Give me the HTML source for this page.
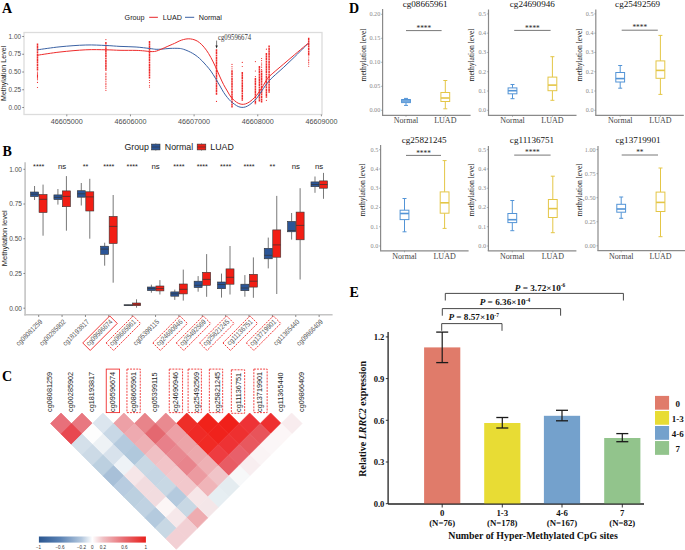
<!DOCTYPE html>
<html><head><meta charset="utf-8"><style>
html,body{margin:0;padding:0;background:#fff;width:685px;height:550px;overflow:hidden}
svg{display:block}
.S{font-family:"Liberation Sans", sans-serif}
.R{font-family:"Liberation Serif", serif}
</style></head><body>
<svg width="685" height="550" viewBox="0 0 685 550">
<rect width="685" height="550" fill="#fff"/>
<text class="R" x="2.00" y="12.90" font-size="14" fill="#000" text-anchor="start" font-weight="bold">A</text>
<text class="R" x="2.40" y="156.30" font-size="14" fill="#000" text-anchor="start" font-weight="bold">B</text>
<text class="R" x="2.00" y="380.80" font-size="14" fill="#000" text-anchor="start" font-weight="bold">C</text>
<text class="R" x="349.10" y="12.60" font-size="14" fill="#000" text-anchor="start" font-weight="bold">D</text>
<text class="R" x="349.50" y="296.80" font-size="14" fill="#000" text-anchor="start" font-weight="bold">E</text>
<text class="S" x="124.60" y="20.00" font-size="7.2" fill="#1a1a1a" text-anchor="start">Group</text>
<line x1="149.20" y1="17.30" x2="157.90" y2="17.30" stroke="#e8262a" stroke-width="1"/>
<text class="S" x="162.70" y="20.00" font-size="7.2" fill="#1a1a1a" text-anchor="start">LUAD</text>
<line x1="185.00" y1="17.30" x2="194.20" y2="17.30" stroke="#3b62a4" stroke-width="1"/>
<text class="S" x="198.70" y="20.00" font-size="7.2" fill="#1a1a1a" text-anchor="start">Normal</text>
<rect x="24.00" y="32.50" width="298.00" height="82.00" fill="#fff" stroke="#dcdcdc" stroke-width="1.3"/>
<line x1="22.20" y1="36.50" x2="24.00" y2="36.50" stroke="#444" stroke-width="0.6"/>
<text class="S" x="21.00" y="38.70" font-size="6.4" fill="#4d4d4d" text-anchor="end">1.00</text>
<line x1="22.20" y1="54.25" x2="24.00" y2="54.25" stroke="#444" stroke-width="0.6"/>
<text class="S" x="21.00" y="56.45" font-size="6.4" fill="#4d4d4d" text-anchor="end">0.75</text>
<line x1="22.20" y1="72.00" x2="24.00" y2="72.00" stroke="#444" stroke-width="0.6"/>
<text class="S" x="21.00" y="74.20" font-size="6.4" fill="#4d4d4d" text-anchor="end">0.50</text>
<line x1="22.20" y1="89.75" x2="24.00" y2="89.75" stroke="#444" stroke-width="0.6"/>
<text class="S" x="21.00" y="91.95" font-size="6.4" fill="#4d4d4d" text-anchor="end">0.25</text>
<line x1="22.20" y1="107.50" x2="24.00" y2="107.50" stroke="#444" stroke-width="0.6"/>
<text class="S" x="21.00" y="109.70" font-size="6.4" fill="#4d4d4d" text-anchor="end">0.00</text>
<line x1="66.80" y1="114.50" x2="66.80" y2="116.30" stroke="#444" stroke-width="0.6"/>
<text class="S" x="66.80" y="123.80" font-size="7.2" fill="#4d4d4d" text-anchor="middle">46605000</text>
<line x1="130.45" y1="114.50" x2="130.45" y2="116.30" stroke="#444" stroke-width="0.6"/>
<text class="S" x="130.45" y="123.80" font-size="7.2" fill="#4d4d4d" text-anchor="middle">46606000</text>
<line x1="194.10" y1="114.50" x2="194.10" y2="116.30" stroke="#444" stroke-width="0.6"/>
<text class="S" x="194.10" y="123.80" font-size="7.2" fill="#4d4d4d" text-anchor="middle">46607000</text>
<line x1="257.75" y1="114.50" x2="257.75" y2="116.30" stroke="#444" stroke-width="0.6"/>
<text class="S" x="257.75" y="123.80" font-size="7.2" fill="#4d4d4d" text-anchor="middle">46608000</text>
<line x1="321.40" y1="114.50" x2="321.40" y2="116.30" stroke="#444" stroke-width="0.6"/>
<text class="S" x="321.40" y="123.80" font-size="7.2" fill="#4d4d4d" text-anchor="middle">46609000</text>
<text class="S" x="0.00" y="0.00" font-size="7.1" fill="#1a1a1a" text-anchor="middle" transform="translate(6.2,73.4) rotate(-90)">Methylation Level</text>
<line x1="37.50" y1="43.50" x2="37.50" y2="70.40" stroke="#ee2b2b" stroke-width="1.5" stroke-dasharray="2.2,0.35"/>
<circle cx="37.50" cy="72.00" r="0.6" fill="#ee2b2b"/>
<circle cx="37.50" cy="73.12" r="0.6" fill="#ee2b2b"/>
<circle cx="37.50" cy="74.15" r="0.6" fill="#ee2b2b"/>
<circle cx="37.50" cy="75.42" r="0.6" fill="#ee2b2b"/>
<circle cx="37.50" cy="76.42" r="0.6" fill="#ee2b2b"/>
<circle cx="37.50" cy="77.63" r="0.6" fill="#ee2b2b"/>
<circle cx="37.50" cy="78.77" r="0.6" fill="#ee2b2b"/>
<circle cx="37.50" cy="79.76" r="0.6" fill="#ee2b2b"/>
<circle cx="37.50" cy="82.40" r="0.6" fill="#ee2b2b"/>
<circle cx="37.50" cy="87.50" r="0.6" fill="#ee2b2b"/>
<line x1="105.90" y1="42.10" x2="105.90" y2="71.00" stroke="#ee2b2b" stroke-width="1.5" stroke-dasharray="2.2,0.35"/>
<circle cx="105.90" cy="73.20" r="0.6" fill="#ee2b2b"/>
<circle cx="105.90" cy="74.67" r="0.6" fill="#ee2b2b"/>
<circle cx="105.90" cy="76.42" r="0.6" fill="#ee2b2b"/>
<circle cx="105.90" cy="77.91" r="0.6" fill="#ee2b2b"/>
<circle cx="105.90" cy="79.41" r="0.6" fill="#ee2b2b"/>
<circle cx="105.90" cy="81.16" r="0.6" fill="#ee2b2b"/>
<circle cx="105.90" cy="83.20" r="0.6" fill="#ee2b2b"/>
<circle cx="105.90" cy="84.72" r="0.6" fill="#ee2b2b"/>
<circle cx="105.90" cy="86.33" r="0.6" fill="#ee2b2b"/>
<circle cx="105.90" cy="88.22" r="0.6" fill="#ee2b2b"/>
<circle cx="105.90" cy="90.34" r="0.6" fill="#ee2b2b"/>
<circle cx="105.90" cy="39.60" r="0.6" fill="#ee2b2b"/>
<line x1="149.50" y1="41.00" x2="149.50" y2="78.60" stroke="#ee2b2b" stroke-width="1.5" stroke-dasharray="2.2,0.35"/>
<circle cx="149.50" cy="80.50" r="0.6" fill="#ee2b2b"/>
<circle cx="149.50" cy="82.61" r="0.6" fill="#ee2b2b"/>
<circle cx="149.50" cy="85.23" r="0.6" fill="#ee2b2b"/>
<circle cx="149.50" cy="87.03" r="0.6" fill="#ee2b2b"/>
<line x1="216.50" y1="49.30" x2="216.50" y2="95.00" stroke="#ee2b2b" stroke-width="1.5" stroke-dasharray="2.2,0.35"/>
<circle cx="216.50" cy="101.40" r="0.6" fill="#ee2b2b"/>
<line x1="232.00" y1="70.30" x2="232.00" y2="107.60" stroke="#ee2b2b" stroke-width="1.5" stroke-dasharray="2.2,0.35"/>
<circle cx="232.00" cy="64.40" r="0.6" fill="#ee2b2b"/>
<circle cx="232.00" cy="66.69" r="0.6" fill="#ee2b2b"/>
<circle cx="232.00" cy="68.83" r="0.6" fill="#ee2b2b"/>
<line x1="242.30" y1="72.00" x2="242.30" y2="100.70" stroke="#ee2b2b" stroke-width="1.5" stroke-dasharray="2.2,0.35"/>
<circle cx="242.30" cy="62.40" r="0.6" fill="#ee2b2b"/>
<circle cx="242.30" cy="66.50" r="0.6" fill="#ee2b2b"/>
<line x1="255.40" y1="78.00" x2="255.40" y2="104.30" stroke="#ee2b2b" stroke-width="1.5" stroke-dasharray="2.2,0.35"/>
<circle cx="255.40" cy="61.60" r="0.6" fill="#ee2b2b"/>
<circle cx="255.40" cy="71.00" r="0.6" fill="#ee2b2b"/>
<circle cx="255.40" cy="76.60" r="0.6" fill="#ee2b2b"/>
<line x1="259.40" y1="66.00" x2="259.40" y2="102.00" stroke="#ee2b2b" stroke-width="1.5" stroke-dasharray="2.2,0.35"/>
<line x1="261.60" y1="70.40" x2="261.60" y2="102.50" stroke="#ee2b2b" stroke-width="1.5" stroke-dasharray="2.2,0.35"/>
<circle cx="261.60" cy="58.50" r="0.6" fill="#ee2b2b"/>
<circle cx="261.60" cy="60.53" r="0.6" fill="#ee2b2b"/>
<circle cx="261.60" cy="63.01" r="0.6" fill="#ee2b2b"/>
<circle cx="261.60" cy="64.93" r="0.6" fill="#ee2b2b"/>
<circle cx="261.60" cy="67.20" r="0.6" fill="#ee2b2b"/>
<circle cx="261.60" cy="69.52" r="0.6" fill="#ee2b2b"/>
<line x1="266.40" y1="53.00" x2="266.40" y2="97.70" stroke="#ee2b2b" stroke-width="1.5" stroke-dasharray="2.2,0.35"/>
<circle cx="266.40" cy="49.20" r="0.6" fill="#ee2b2b"/>
<circle cx="266.40" cy="100.30" r="0.6" fill="#ee2b2b"/>
<line x1="269.10" y1="45.40" x2="269.10" y2="92.80" stroke="#ee2b2b" stroke-width="1.5" stroke-dasharray="2.2,0.35"/>
<line x1="308.70" y1="37.70" x2="308.70" y2="55.70" stroke="#ee2b2b" stroke-width="1.5" stroke-dasharray="2.2,0.35"/>
<circle cx="308.70" cy="57.00" r="0.6" fill="#ee2b2b"/>
<circle cx="308.70" cy="59.04" r="0.6" fill="#ee2b2b"/>
<circle cx="308.70" cy="60.69" r="0.6" fill="#ee2b2b"/>
<circle cx="308.70" cy="62.34" r="0.6" fill="#ee2b2b"/>
<circle cx="308.70" cy="64.10" r="0.6" fill="#ee2b2b"/>
<circle cx="308.70" cy="66.25" r="0.6" fill="#ee2b2b"/>
<path d="M37.60,49.80 C41.33,49.30 51.97,47.60 60.00,46.80 C68.03,46.00 78.13,45.22 85.80,45.00 C93.47,44.78 100.30,45.27 106.00,45.50 C111.70,45.73 114.98,46.15 120.00,46.40 C125.02,46.65 131.15,46.65 136.10,47.00 C141.05,47.35 146.37,48.12 149.70,48.50 C153.03,48.88 154.08,49.20 156.10,49.30 C158.12,49.40 159.48,49.25 161.80,49.10 C164.12,48.95 167.12,48.52 170.00,48.40 C172.88,48.28 176.83,48.25 179.10,48.40 C181.37,48.55 182.08,48.85 183.60,49.30 C185.12,49.75 186.68,50.42 188.20,51.10 C189.72,51.78 191.18,52.50 192.70,53.40 C194.22,54.30 195.78,55.30 197.30,56.50 C198.82,57.70 200.28,59.08 201.80,60.60 C203.32,62.12 204.88,63.85 206.40,65.60 C207.92,67.35 209.38,68.97 210.90,71.10 C212.42,73.23 213.98,75.92 215.50,78.40 C217.02,80.88 218.65,83.68 220.00,86.00 C221.35,88.32 222.38,90.40 223.60,92.30 C224.82,94.20 226.08,95.88 227.30,97.40 C228.52,98.92 229.68,100.25 230.90,101.40 C232.12,102.55 233.38,103.45 234.60,104.30 C235.82,105.15 236.98,105.98 238.20,106.50 C239.42,107.02 240.68,107.33 241.90,107.40 C243.12,107.47 244.28,107.30 245.50,106.90 C246.72,106.50 247.98,105.80 249.20,105.00 C250.42,104.20 251.58,103.18 252.80,102.10 C254.02,101.02 255.28,99.95 256.50,98.50 C257.72,97.05 258.97,95.05 260.10,93.40 C261.23,91.75 262.07,90.37 263.30,88.60 C264.53,86.83 265.90,84.73 267.50,82.80 C269.10,80.87 270.18,79.60 272.90,77.00 C275.62,74.40 280.17,70.57 283.80,67.20 C287.43,63.83 291.07,60.35 294.70,56.80 C298.33,53.25 303.32,48.12 305.60,45.90 C307.88,43.68 307.93,43.90 308.40,43.50" fill="none" stroke="#3b62a4" stroke-width="1"/>
<path d="M37.60,55.20 C41.33,54.67 51.97,52.90 60.00,52.00 C68.03,51.10 78.13,50.17 85.80,49.80 C93.47,49.43 100.30,49.72 106.00,49.80 C111.70,49.88 114.98,50.20 120.00,50.30 C125.02,50.40 132.08,50.30 136.10,50.40 C140.12,50.50 141.83,50.72 144.10,50.90 C146.37,51.08 147.97,51.40 149.70,51.50 C151.43,51.60 153.02,51.70 154.50,51.50 C155.98,51.30 156.98,50.90 158.60,50.30 C160.22,49.70 162.30,48.73 164.20,47.90 C166.10,47.07 168.28,46.05 170.00,45.30 C171.72,44.55 172.98,44.10 174.50,43.40 C176.02,42.70 177.58,41.75 179.10,41.10 C180.62,40.45 182.08,39.88 183.60,39.50 C185.12,39.12 186.68,38.83 188.20,38.80 C189.72,38.77 191.18,38.92 192.70,39.30 C194.22,39.68 195.78,40.20 197.30,41.10 C198.82,42.00 200.28,43.18 201.80,44.70 C203.32,46.22 204.88,48.07 206.40,50.20 C207.92,52.33 209.38,54.73 210.90,57.50 C212.42,60.27 213.98,63.55 215.50,66.80 C217.02,70.05 218.65,74.03 220.00,77.00 C221.35,79.97 222.38,82.27 223.60,84.60 C224.82,86.93 226.08,88.93 227.30,91.00 C228.52,93.07 229.68,95.38 230.90,97.00 C232.12,98.62 233.38,99.67 234.60,100.70 C235.82,101.73 236.98,102.60 238.20,103.20 C239.42,103.80 240.68,104.18 241.90,104.30 C243.12,104.42 244.28,104.27 245.50,103.90 C246.72,103.53 247.98,102.88 249.20,102.10 C250.42,101.32 251.58,100.30 252.80,99.20 C254.02,98.10 255.28,96.97 256.50,95.50 C257.72,94.03 258.97,92.05 260.10,90.40 C261.23,88.75 262.07,87.60 263.30,85.60 C264.53,83.60 265.90,80.47 267.50,78.40 C269.10,76.33 270.18,75.62 272.90,73.20 C275.62,70.78 280.17,67.00 283.80,63.90 C287.43,60.80 291.07,57.68 294.70,54.60 C298.33,51.52 303.32,47.30 305.60,45.40 C307.88,43.50 307.93,43.57 308.40,43.20" fill="none" stroke="#ee2b2b" stroke-width="1"/>
<line x1="216.60" y1="40.60" x2="216.60" y2="46.50" stroke="#222" stroke-width="0.6"/>
<path d="M215.4,45.4 L216.6,48.4 L217.8,45.4 Z" fill="#222"/>
<text class="R" x="0.00" y="0.00" font-size="8.2" fill="#333" text-anchor="start" transform="translate(218,40.4) scale(0.82,1)">cg09596674</text>
<text class="S" x="124.40" y="149.90" font-size="8.8" fill="#1a1a1a" text-anchor="start">Group</text>
<rect x="151.60" y="144.10" width="8.40" height="5.80" fill="#2b5597" stroke="#333" stroke-width="0.6"/>
<line x1="151.60" y1="147.00" x2="160.00" y2="147.00" stroke="#333" stroke-width="0.6"/>
<line x1="155.80" y1="143.30" x2="155.80" y2="144.10" stroke="#555" stroke-width="0.6"/>
<line x1="155.80" y1="149.90" x2="155.80" y2="150.70" stroke="#555" stroke-width="0.6"/>
<text class="S" x="164.80" y="149.90" font-size="8.8" fill="#1a1a1a" text-anchor="start">Normal</text>
<rect x="197.20" y="144.10" width="8.60" height="5.80" fill="#f21e14" stroke="#333" stroke-width="0.6"/>
<line x1="197.20" y1="147.00" x2="205.80" y2="147.00" stroke="#333" stroke-width="0.6"/>
<line x1="201.50" y1="143.30" x2="201.50" y2="144.10" stroke="#555" stroke-width="0.6"/>
<line x1="201.50" y1="149.90" x2="201.50" y2="150.70" stroke="#555" stroke-width="0.6"/>
<text class="S" x="210.30" y="149.90" font-size="8.8" fill="#1a1a1a" text-anchor="start">LUAD</text>
<line x1="25.10" y1="162.20" x2="25.10" y2="315.50" stroke="#c4c4c4" stroke-width="1.6"/>
<line x1="24.30" y1="314.70" x2="332.60" y2="314.70" stroke="#c4c4c4" stroke-width="1.6"/>
<line x1="23.40" y1="169.30" x2="25.00" y2="169.30" stroke="#444" stroke-width="0.6"/>
<text class="S" x="22.00" y="171.60" font-size="6.6" fill="#4d4d4d" text-anchor="end">1.00</text>
<line x1="23.40" y1="204.02" x2="25.00" y2="204.02" stroke="#444" stroke-width="0.6"/>
<text class="S" x="22.00" y="206.32" font-size="6.6" fill="#4d4d4d" text-anchor="end">0.75</text>
<line x1="23.40" y1="238.75" x2="25.00" y2="238.75" stroke="#444" stroke-width="0.6"/>
<text class="S" x="22.00" y="241.05" font-size="6.6" fill="#4d4d4d" text-anchor="end">0.50</text>
<line x1="23.40" y1="273.47" x2="25.00" y2="273.47" stroke="#444" stroke-width="0.6"/>
<text class="S" x="22.00" y="275.77" font-size="6.6" fill="#4d4d4d" text-anchor="end">0.25</text>
<line x1="23.40" y1="308.20" x2="25.00" y2="308.20" stroke="#444" stroke-width="0.6"/>
<text class="S" x="22.00" y="310.50" font-size="6.6" fill="#4d4d4d" text-anchor="end">0.00</text>
<text class="S" x="0.00" y="0.00" font-size="7.5" fill="#1a1a1a" text-anchor="middle" transform="translate(6.6,238.2) rotate(-90)">Methylation level</text>
<line x1="38.70" y1="315.00" x2="38.70" y2="317.00" stroke="#444" stroke-width="0.6"/>
<line x1="34.55" y1="186.00" x2="34.55" y2="192.00" stroke="#555" stroke-width="0.8"/>
<line x1="34.55" y1="196.60" x2="34.55" y2="200.00" stroke="#555" stroke-width="0.8"/>
<rect x="30.55" y="192.00" width="8.00" height="4.60" fill="#2b5597" stroke="#333" stroke-width="0.6"/>
<line x1="30.55" y1="194.20" x2="38.55" y2="194.20" stroke="#333" stroke-width="0.7"/>
<line x1="43.05" y1="184.60" x2="43.05" y2="194.50" stroke="#555" stroke-width="0.8"/>
<line x1="43.05" y1="212.50" x2="43.05" y2="235.70" stroke="#555" stroke-width="0.8"/>
<rect x="39.05" y="194.50" width="8.00" height="18.00" fill="#f21e14" stroke="#333" stroke-width="0.6"/>
<line x1="39.05" y1="199.30" x2="47.05" y2="199.30" stroke="#333" stroke-width="0.7"/>
<text class="S" x="38.70" y="168.90" font-size="7.2" fill="#1a1a1a" text-anchor="middle">****</text>
<line x1="62.07" y1="315.00" x2="62.07" y2="317.00" stroke="#444" stroke-width="0.6"/>
<line x1="57.92" y1="189.00" x2="57.92" y2="194.90" stroke="#555" stroke-width="0.8"/>
<line x1="57.92" y1="199.60" x2="57.92" y2="204.60" stroke="#555" stroke-width="0.8"/>
<rect x="53.92" y="194.90" width="8.00" height="4.70" fill="#2b5597" stroke="#333" stroke-width="0.6"/>
<line x1="53.92" y1="197.40" x2="61.92" y2="197.40" stroke="#333" stroke-width="0.7"/>
<line x1="66.42" y1="176.10" x2="66.42" y2="190.90" stroke="#555" stroke-width="0.8"/>
<line x1="66.42" y1="206.70" x2="66.42" y2="230.70" stroke="#555" stroke-width="0.8"/>
<rect x="62.42" y="190.90" width="8.00" height="15.80" fill="#f21e14" stroke="#333" stroke-width="0.6"/>
<line x1="62.42" y1="196.40" x2="70.42" y2="196.40" stroke="#333" stroke-width="0.7"/>
<text class="S" x="62.07" y="169.30" font-size="7.8" fill="#1a1a1a" text-anchor="middle">ns</text>
<line x1="85.44" y1="315.00" x2="85.44" y2="317.00" stroke="#444" stroke-width="0.6"/>
<line x1="81.29" y1="183.00" x2="81.29" y2="190.70" stroke="#555" stroke-width="0.8"/>
<line x1="81.29" y1="197.20" x2="81.29" y2="205.50" stroke="#555" stroke-width="0.8"/>
<rect x="77.29" y="190.70" width="8.00" height="6.50" fill="#2b5597" stroke="#333" stroke-width="0.6"/>
<line x1="77.29" y1="193.80" x2="85.29" y2="193.80" stroke="#333" stroke-width="0.7"/>
<line x1="89.79" y1="178.80" x2="89.79" y2="191.80" stroke="#555" stroke-width="0.8"/>
<line x1="89.79" y1="211.00" x2="89.79" y2="238.70" stroke="#555" stroke-width="0.8"/>
<rect x="85.79" y="191.80" width="8.00" height="19.20" fill="#f21e14" stroke="#333" stroke-width="0.6"/>
<line x1="85.79" y1="196.90" x2="93.79" y2="196.90" stroke="#333" stroke-width="0.7"/>
<text class="S" x="85.44" y="168.90" font-size="7.2" fill="#1a1a1a" text-anchor="middle">**</text>
<line x1="108.81" y1="315.00" x2="108.81" y2="317.00" stroke="#444" stroke-width="0.6"/>
<line x1="104.66" y1="242.70" x2="104.66" y2="246.20" stroke="#555" stroke-width="0.8"/>
<line x1="104.66" y1="254.40" x2="104.66" y2="265.70" stroke="#555" stroke-width="0.8"/>
<rect x="100.66" y="246.20" width="8.00" height="8.20" fill="#2b5597" stroke="#333" stroke-width="0.6"/>
<line x1="100.66" y1="249.10" x2="108.66" y2="249.10" stroke="#333" stroke-width="0.7"/>
<line x1="113.16" y1="195.00" x2="113.16" y2="216.40" stroke="#555" stroke-width="0.8"/>
<line x1="113.16" y1="243.50" x2="113.16" y2="282.70" stroke="#555" stroke-width="0.8"/>
<rect x="109.16" y="216.40" width="8.00" height="27.10" fill="#f21e14" stroke="#333" stroke-width="0.6"/>
<line x1="109.16" y1="226.40" x2="117.16" y2="226.40" stroke="#333" stroke-width="0.7"/>
<text class="S" x="108.81" y="168.90" font-size="7.2" fill="#1a1a1a" text-anchor="middle">****</text>
<line x1="132.18" y1="315.00" x2="132.18" y2="317.00" stroke="#444" stroke-width="0.6"/>
<line x1="128.03" y1="304.70" x2="128.03" y2="304.80" stroke="#555" stroke-width="0.8"/>
<line x1="128.03" y1="305.60" x2="128.03" y2="305.90" stroke="#555" stroke-width="0.8"/>
<rect x="124.03" y="304.80" width="8.00" height="0.80" fill="#2b5597" stroke="#333" stroke-width="0.6"/>
<line x1="124.03" y1="305.20" x2="132.03" y2="305.20" stroke="#333" stroke-width="0.7"/>
<line x1="136.53" y1="299.30" x2="136.53" y2="303.00" stroke="#555" stroke-width="0.8"/>
<line x1="136.53" y1="305.70" x2="136.53" y2="307.70" stroke="#555" stroke-width="0.8"/>
<rect x="132.53" y="303.00" width="8.00" height="2.70" fill="#f21e14" stroke="#333" stroke-width="0.6"/>
<line x1="132.53" y1="304.30" x2="140.53" y2="304.30" stroke="#333" stroke-width="0.7"/>
<text class="S" x="132.18" y="168.90" font-size="7.2" fill="#1a1a1a" text-anchor="middle">****</text>
<line x1="155.55" y1="315.00" x2="155.55" y2="317.00" stroke="#444" stroke-width="0.6"/>
<line x1="151.40" y1="284.70" x2="151.40" y2="287.00" stroke="#555" stroke-width="0.8"/>
<line x1="151.40" y1="290.60" x2="151.40" y2="292.70" stroke="#555" stroke-width="0.8"/>
<rect x="147.40" y="287.00" width="8.00" height="3.60" fill="#2b5597" stroke="#333" stroke-width="0.6"/>
<line x1="147.40" y1="288.60" x2="155.40" y2="288.60" stroke="#333" stroke-width="0.7"/>
<line x1="159.90" y1="280.10" x2="159.90" y2="286.00" stroke="#555" stroke-width="0.8"/>
<line x1="159.90" y1="290.90" x2="159.90" y2="294.50" stroke="#555" stroke-width="0.8"/>
<rect x="155.90" y="286.00" width="8.00" height="4.90" fill="#f21e14" stroke="#333" stroke-width="0.6"/>
<line x1="155.90" y1="288.60" x2="163.90" y2="288.60" stroke="#333" stroke-width="0.7"/>
<text class="S" x="155.55" y="169.30" font-size="7.8" fill="#1a1a1a" text-anchor="middle">ns</text>
<line x1="178.92" y1="315.00" x2="178.92" y2="317.00" stroke="#444" stroke-width="0.6"/>
<line x1="174.77" y1="289.60" x2="174.77" y2="291.90" stroke="#555" stroke-width="0.8"/>
<line x1="174.77" y1="296.20" x2="174.77" y2="299.90" stroke="#555" stroke-width="0.8"/>
<rect x="170.77" y="291.90" width="8.00" height="4.30" fill="#2b5597" stroke="#333" stroke-width="0.6"/>
<line x1="170.77" y1="293.90" x2="178.77" y2="293.90" stroke="#333" stroke-width="0.7"/>
<line x1="183.27" y1="269.60" x2="183.27" y2="284.00" stroke="#555" stroke-width="0.8"/>
<line x1="183.27" y1="293.90" x2="183.27" y2="300.60" stroke="#555" stroke-width="0.8"/>
<rect x="179.27" y="284.00" width="8.00" height="9.90" fill="#f21e14" stroke="#333" stroke-width="0.6"/>
<line x1="179.27" y1="289.30" x2="187.27" y2="289.30" stroke="#333" stroke-width="0.7"/>
<text class="S" x="178.92" y="168.90" font-size="7.2" fill="#1a1a1a" text-anchor="middle">****</text>
<line x1="202.29" y1="315.00" x2="202.29" y2="317.00" stroke="#444" stroke-width="0.6"/>
<line x1="198.14" y1="276.10" x2="198.14" y2="281.20" stroke="#555" stroke-width="0.8"/>
<line x1="198.14" y1="287.60" x2="198.14" y2="291.70" stroke="#555" stroke-width="0.8"/>
<rect x="194.14" y="281.20" width="8.00" height="6.40" fill="#2b5597" stroke="#333" stroke-width="0.6"/>
<line x1="194.14" y1="285.30" x2="202.14" y2="285.30" stroke="#333" stroke-width="0.7"/>
<line x1="206.64" y1="254.10" x2="206.64" y2="272.30" stroke="#555" stroke-width="0.8"/>
<line x1="206.64" y1="285.30" x2="206.64" y2="296.80" stroke="#555" stroke-width="0.8"/>
<rect x="202.64" y="272.30" width="8.00" height="13.00" fill="#f21e14" stroke="#333" stroke-width="0.6"/>
<line x1="202.64" y1="279.40" x2="210.64" y2="279.40" stroke="#333" stroke-width="0.7"/>
<text class="S" x="202.29" y="168.90" font-size="7.2" fill="#1a1a1a" text-anchor="middle">****</text>
<line x1="225.66" y1="315.00" x2="225.66" y2="317.00" stroke="#444" stroke-width="0.6"/>
<line x1="221.51" y1="273.60" x2="221.51" y2="282.00" stroke="#555" stroke-width="0.8"/>
<line x1="221.51" y1="288.70" x2="221.51" y2="297.60" stroke="#555" stroke-width="0.8"/>
<rect x="217.51" y="282.00" width="8.00" height="6.70" fill="#2b5597" stroke="#333" stroke-width="0.6"/>
<line x1="217.51" y1="284.50" x2="225.51" y2="284.50" stroke="#333" stroke-width="0.7"/>
<line x1="230.01" y1="246.00" x2="230.01" y2="268.90" stroke="#555" stroke-width="0.8"/>
<line x1="230.01" y1="284.20" x2="230.01" y2="294.50" stroke="#555" stroke-width="0.8"/>
<rect x="226.01" y="268.90" width="8.00" height="15.30" fill="#f21e14" stroke="#333" stroke-width="0.6"/>
<line x1="226.01" y1="277.30" x2="234.01" y2="277.30" stroke="#333" stroke-width="0.7"/>
<text class="S" x="225.66" y="168.90" font-size="7.2" fill="#1a1a1a" text-anchor="middle">****</text>
<line x1="249.03" y1="315.00" x2="249.03" y2="317.00" stroke="#444" stroke-width="0.6"/>
<line x1="244.88" y1="275.10" x2="244.88" y2="284.20" stroke="#555" stroke-width="0.8"/>
<line x1="244.88" y1="290.70" x2="244.88" y2="296.70" stroke="#555" stroke-width="0.8"/>
<rect x="240.88" y="284.20" width="8.00" height="6.50" fill="#2b5597" stroke="#333" stroke-width="0.6"/>
<line x1="240.88" y1="288.00" x2="248.88" y2="288.00" stroke="#333" stroke-width="0.7"/>
<line x1="253.38" y1="257.40" x2="253.38" y2="274.30" stroke="#555" stroke-width="0.8"/>
<line x1="253.38" y1="287.10" x2="253.38" y2="297.80" stroke="#555" stroke-width="0.8"/>
<rect x="249.38" y="274.30" width="8.00" height="12.80" fill="#f21e14" stroke="#333" stroke-width="0.6"/>
<line x1="249.38" y1="281.20" x2="257.38" y2="281.20" stroke="#333" stroke-width="0.7"/>
<text class="S" x="249.03" y="168.90" font-size="7.2" fill="#1a1a1a" text-anchor="middle">****</text>
<line x1="272.40" y1="315.00" x2="272.40" y2="317.00" stroke="#444" stroke-width="0.6"/>
<line x1="268.25" y1="237.60" x2="268.25" y2="248.30" stroke="#555" stroke-width="0.8"/>
<line x1="268.25" y1="258.80" x2="268.25" y2="268.40" stroke="#555" stroke-width="0.8"/>
<rect x="264.25" y="248.30" width="8.00" height="10.50" fill="#2b5597" stroke="#333" stroke-width="0.6"/>
<line x1="264.25" y1="255.30" x2="272.25" y2="255.30" stroke="#333" stroke-width="0.7"/>
<line x1="276.75" y1="195.90" x2="276.75" y2="229.90" stroke="#555" stroke-width="0.8"/>
<line x1="276.75" y1="257.20" x2="276.75" y2="294.00" stroke="#555" stroke-width="0.8"/>
<rect x="272.75" y="229.90" width="8.00" height="27.30" fill="#f21e14" stroke="#333" stroke-width="0.6"/>
<line x1="272.75" y1="244.90" x2="280.75" y2="244.90" stroke="#333" stroke-width="0.7"/>
<text class="S" x="272.40" y="168.90" font-size="7.2" fill="#1a1a1a" text-anchor="middle">**</text>
<line x1="295.77" y1="315.00" x2="295.77" y2="317.00" stroke="#444" stroke-width="0.6"/>
<line x1="291.62" y1="213.00" x2="291.62" y2="221.40" stroke="#555" stroke-width="0.8"/>
<line x1="291.62" y1="231.80" x2="291.62" y2="239.60" stroke="#555" stroke-width="0.8"/>
<rect x="287.62" y="221.40" width="8.00" height="10.40" fill="#2b5597" stroke="#333" stroke-width="0.6"/>
<line x1="287.62" y1="230.50" x2="295.62" y2="230.50" stroke="#333" stroke-width="0.7"/>
<line x1="300.12" y1="188.20" x2="300.12" y2="212.10" stroke="#555" stroke-width="0.8"/>
<line x1="300.12" y1="239.80" x2="300.12" y2="279.50" stroke="#555" stroke-width="0.8"/>
<rect x="296.12" y="212.10" width="8.00" height="27.70" fill="#f21e14" stroke="#333" stroke-width="0.6"/>
<line x1="296.12" y1="225.40" x2="304.12" y2="225.40" stroke="#333" stroke-width="0.7"/>
<text class="S" x="295.77" y="169.30" font-size="7.8" fill="#1a1a1a" text-anchor="middle">ns</text>
<line x1="319.14" y1="315.00" x2="319.14" y2="317.00" stroke="#444" stroke-width="0.6"/>
<line x1="314.99" y1="176.50" x2="314.99" y2="181.90" stroke="#555" stroke-width="0.8"/>
<line x1="314.99" y1="186.70" x2="314.99" y2="192.80" stroke="#555" stroke-width="0.8"/>
<rect x="310.99" y="181.90" width="8.00" height="4.80" fill="#2b5597" stroke="#333" stroke-width="0.6"/>
<line x1="310.99" y1="184.50" x2="318.99" y2="184.50" stroke="#333" stroke-width="0.7"/>
<line x1="323.49" y1="172.90" x2="323.49" y2="180.90" stroke="#555" stroke-width="0.8"/>
<line x1="323.49" y1="188.20" x2="323.49" y2="198.80" stroke="#555" stroke-width="0.8"/>
<rect x="319.49" y="180.90" width="8.00" height="7.30" fill="#f21e14" stroke="#333" stroke-width="0.6"/>
<line x1="319.49" y1="184.50" x2="327.49" y2="184.50" stroke="#333" stroke-width="0.7"/>
<text class="S" x="319.14" y="169.30" font-size="7.8" fill="#1a1a1a" text-anchor="middle">ns</text>
<text class="S" x="0.00" y="0.00" font-size="7.2" fill="#555" text-anchor="end" transform="translate(42.90,322.30) rotate(-45) scale(0.86,1)">cg08081259</text>
<text class="S" x="0.00" y="0.00" font-size="7.2" fill="#555" text-anchor="end" transform="translate(66.27,322.30) rotate(-45) scale(0.86,1)">cg00285902</text>
<text class="S" x="0.00" y="0.00" font-size="7.2" fill="#555" text-anchor="end" transform="translate(89.64,322.30) rotate(-45) scale(0.86,1)">cg18193817</text>
<text class="S" x="0.00" y="0.00" font-size="7.2" fill="#555" text-anchor="end" transform="translate(113.01,322.30) rotate(-45) scale(0.86,1)">cg09596674</text>
<rect x="-36.0" y="-6.8" width="38.2" height="10.6" fill="none" stroke="#f03030" stroke-width="0.9" transform="translate(113.01,322.30) rotate(-45)"/>
<text class="S" x="0.00" y="0.00" font-size="7.2" fill="#555" text-anchor="end" transform="translate(136.38,322.30) rotate(-45) scale(0.86,1)">cg08665961</text>
<rect x="-36.0" y="-6.8" width="38.2" height="10.6" fill="none" stroke="#f03030" stroke-width="0.9" stroke-dasharray="2,1.1" transform="translate(136.38,322.30) rotate(-45)"/>
<text class="S" x="0.00" y="0.00" font-size="7.2" fill="#555" text-anchor="end" transform="translate(159.75,322.30) rotate(-45) scale(0.86,1)">cg05399115</text>
<text class="S" x="0.00" y="0.00" font-size="7.2" fill="#555" text-anchor="end" transform="translate(183.12,322.30) rotate(-45) scale(0.86,1)">cg24690946</text>
<rect x="-36.0" y="-6.8" width="38.2" height="10.6" fill="none" stroke="#f03030" stroke-width="0.9" stroke-dasharray="2,1.1" transform="translate(183.12,322.30) rotate(-45)"/>
<text class="S" x="0.00" y="0.00" font-size="7.2" fill="#555" text-anchor="end" transform="translate(206.49,322.30) rotate(-45) scale(0.86,1)">cg25492569</text>
<rect x="-36.0" y="-6.8" width="38.2" height="10.6" fill="none" stroke="#f03030" stroke-width="0.9" stroke-dasharray="2,1.1" transform="translate(206.49,322.30) rotate(-45)"/>
<text class="S" x="0.00" y="0.00" font-size="7.2" fill="#555" text-anchor="end" transform="translate(229.86,322.30) rotate(-45) scale(0.86,1)">cg25821245</text>
<rect x="-36.0" y="-6.8" width="38.2" height="10.6" fill="none" stroke="#f03030" stroke-width="0.9" stroke-dasharray="2,1.1" transform="translate(229.86,322.30) rotate(-45)"/>
<text class="S" x="0.00" y="0.00" font-size="7.2" fill="#555" text-anchor="end" transform="translate(253.23,322.30) rotate(-45) scale(0.86,1)">cg11136751</text>
<rect x="-36.0" y="-6.8" width="38.2" height="10.6" fill="none" stroke="#f03030" stroke-width="0.9" stroke-dasharray="2,1.1" transform="translate(253.23,322.30) rotate(-45)"/>
<text class="S" x="0.00" y="0.00" font-size="7.2" fill="#555" text-anchor="end" transform="translate(276.60,322.30) rotate(-45) scale(0.86,1)">cg13719901</text>
<rect x="-36.0" y="-6.8" width="38.2" height="10.6" fill="none" stroke="#f03030" stroke-width="0.9" stroke-dasharray="2,1.1" transform="translate(276.60,322.30) rotate(-45)"/>
<text class="S" x="0.00" y="0.00" font-size="7.2" fill="#555" text-anchor="end" transform="translate(299.97,322.30) rotate(-45) scale(0.86,1)">cg11365440</text>
<text class="S" x="0.00" y="0.00" font-size="7.2" fill="#555" text-anchor="end" transform="translate(323.34,322.30) rotate(-45) scale(0.86,1)">cg09866409</text>
<text class="S" x="0.00" y="0.00" font-size="7.3" fill="#1a1a1a" text-anchor="start" transform="translate(52.30,412.0) rotate(-90)">cg08081259</text>
<text class="S" x="0.00" y="0.00" font-size="7.3" fill="#1a1a1a" text-anchor="start" transform="translate(73.27,412.0) rotate(-90)">cg00285902</text>
<text class="S" x="0.00" y="0.00" font-size="7.3" fill="#1a1a1a" text-anchor="start" transform="translate(94.24,412.0) rotate(-90)">cg18193817</text>
<text class="S" x="0.00" y="0.00" font-size="7.3" fill="#1a1a1a" text-anchor="start" transform="translate(115.21,412.0) rotate(-90)">cg09596674</text>
<rect x="106.25" y="369.10" width="13.30" height="43.50" fill="none" stroke="#f03030" stroke-width="0.9"/>
<text class="S" x="0.00" y="0.00" font-size="7.3" fill="#1a1a1a" text-anchor="start" transform="translate(136.18,412.0) rotate(-90)">cg08665961</text>
<rect x="126.95" y="369.10" width="13.30" height="43.50" fill="none" stroke="#f03030" stroke-width="0.9" stroke-dasharray="2,1.1"/>
<text class="S" x="0.00" y="0.00" font-size="7.3" fill="#1a1a1a" text-anchor="start" transform="translate(157.15,412.0) rotate(-90)">cg05399115</text>
<text class="S" x="0.00" y="0.00" font-size="7.3" fill="#1a1a1a" text-anchor="start" transform="translate(178.12,412.0) rotate(-90)">cg24690946</text>
<rect x="169.25" y="369.10" width="13.30" height="43.50" fill="none" stroke="#f03030" stroke-width="0.9" stroke-dasharray="2,1.1"/>
<text class="S" x="0.00" y="0.00" font-size="7.3" fill="#1a1a1a" text-anchor="start" transform="translate(199.09,412.0) rotate(-90)">cg25492569</text>
<rect x="188.10" y="369.10" width="13.30" height="43.50" fill="none" stroke="#f03030" stroke-width="0.9" stroke-dasharray="2,1.1"/>
<text class="S" x="0.00" y="0.00" font-size="7.3" fill="#1a1a1a" text-anchor="start" transform="translate(220.06,412.0) rotate(-90)">cg25821245</text>
<rect x="209.35" y="369.10" width="13.30" height="43.50" fill="none" stroke="#f03030" stroke-width="0.9" stroke-dasharray="2,1.1"/>
<text class="S" x="0.00" y="0.00" font-size="7.3" fill="#1a1a1a" text-anchor="start" transform="translate(241.03,412.0) rotate(-90)">cg11136751</text>
<rect x="231.35" y="369.80" width="13.30" height="43.50" fill="none" stroke="#f03030" stroke-width="0.9" stroke-dasharray="2,1.1"/>
<text class="S" x="0.00" y="0.00" font-size="7.3" fill="#1a1a1a" text-anchor="start" transform="translate(262.00,412.0) rotate(-90)">cg13719901</text>
<rect x="253.85" y="369.10" width="13.30" height="43.50" fill="none" stroke="#f03030" stroke-width="0.9" stroke-dasharray="2,1.1"/>
<text class="S" x="0.00" y="0.00" font-size="7.3" fill="#1a1a1a" text-anchor="start" transform="translate(282.97,412.0) rotate(-90)">cg11365440</text>
<text class="S" x="0.00" y="0.00" font-size="7.3" fill="#1a1a1a" text-anchor="start" transform="translate(303.94,412.0) rotate(-90)">cg09866409</text>
<path d="M60.98,413.01 L71.47,423.50 L60.98,433.99 L50.50,423.50 Z" fill="#e8707a" stroke="#e8707a" stroke-width="0.7" stroke-linejoin="miter"/>
<path d="M81.95,413.01 L92.44,423.50 L81.95,433.99 L71.47,423.50 Z" fill="#e87880" stroke="#e87880" stroke-width="0.7" stroke-linejoin="miter"/>
<path d="M102.92,413.01 L113.41,423.50 L102.92,433.99 L92.44,423.50 Z" fill="#dce6ef" stroke="#dce6ef" stroke-width="0.7" stroke-linejoin="miter"/>
<path d="M123.89,413.01 L134.38,423.50 L123.89,433.99 L113.41,423.50 Z" fill="#eda0a6" stroke="#eda0a6" stroke-width="0.7" stroke-linejoin="miter"/>
<path d="M144.87,413.01 L155.35,423.50 L144.87,433.99 L134.38,423.50 Z" fill="#e8848a" stroke="#e8848a" stroke-width="0.7" stroke-linejoin="miter"/>
<path d="M165.83,413.01 L176.32,423.50 L165.83,433.99 L155.35,423.50 Z" fill="#e98a90" stroke="#e98a90" stroke-width="0.7" stroke-linejoin="miter"/>
<path d="M186.81,413.01 L197.29,423.50 L186.81,433.99 L176.32,423.50 Z" fill="#ee2e28" stroke="#ee2e28" stroke-width="0.7" stroke-linejoin="miter"/>
<path d="M207.77,413.01 L218.26,423.50 L207.77,433.99 L197.29,423.50 Z" fill="#f0221a" stroke="#f0221a" stroke-width="0.7" stroke-linejoin="miter"/>
<path d="M228.75,413.01 L239.23,423.50 L228.75,433.99 L218.26,423.50 Z" fill="#f0201a" stroke="#f0201a" stroke-width="0.7" stroke-linejoin="miter"/>
<path d="M249.71,413.01 L260.20,423.50 L249.71,433.99 L239.23,423.50 Z" fill="#ee3236" stroke="#ee3236" stroke-width="0.7" stroke-linejoin="miter"/>
<path d="M270.68,413.01 L281.17,423.50 L270.68,433.99 L260.20,423.50 Z" fill="#ee3030" stroke="#ee3030" stroke-width="0.7" stroke-linejoin="miter"/>
<path d="M291.65,413.01 L302.14,423.50 L291.65,433.99 L281.17,423.50 Z" fill="#f8ecee" stroke="#f8ecee" stroke-width="0.7" stroke-linejoin="miter"/>
<path d="M71.47,423.50 L81.95,433.99 L71.47,444.47 L60.98,433.99 Z" fill="#e84850" stroke="#e84850" stroke-width="0.7" stroke-linejoin="miter"/>
<path d="M92.44,423.50 L102.92,433.99 L92.44,444.47 L81.95,433.99 Z" fill="#fdfdfd" stroke="#fdfdfd" stroke-width="0.7" stroke-linejoin="miter"/>
<path d="M113.41,423.50 L123.89,433.99 L113.41,444.47 L102.92,433.99 Z" fill="#c8d8e6" stroke="#c8d8e6" stroke-width="0.7" stroke-linejoin="miter"/>
<path d="M134.38,423.50 L144.87,433.99 L134.38,444.47 L123.89,433.99 Z" fill="#eeaab0" stroke="#eeaab0" stroke-width="0.7" stroke-linejoin="miter"/>
<path d="M155.35,423.50 L165.83,433.99 L155.35,444.47 L144.87,433.99 Z" fill="#e46870" stroke="#e46870" stroke-width="0.7" stroke-linejoin="miter"/>
<path d="M176.32,423.50 L186.81,433.99 L176.32,444.47 L165.83,433.99 Z" fill="#eda0a6" stroke="#eda0a6" stroke-width="0.7" stroke-linejoin="miter"/>
<path d="M197.29,423.50 L207.77,433.99 L197.29,444.47 L186.81,433.99 Z" fill="#ef2a26" stroke="#ef2a26" stroke-width="0.7" stroke-linejoin="miter"/>
<path d="M218.26,423.50 L228.75,433.99 L218.26,444.47 L207.77,433.99 Z" fill="#f0221c" stroke="#f0221c" stroke-width="0.7" stroke-linejoin="miter"/>
<path d="M239.23,423.50 L249.71,433.99 L239.23,444.47 L228.75,433.99 Z" fill="#ee3030" stroke="#ee3030" stroke-width="0.7" stroke-linejoin="miter"/>
<path d="M260.20,423.50 L270.69,433.99 L260.20,444.47 L249.71,433.99 Z" fill="#e8545a" stroke="#e8545a" stroke-width="0.7" stroke-linejoin="miter"/>
<path d="M281.17,423.50 L291.65,433.99 L281.17,444.47 L270.68,433.99 Z" fill="#fcf6f7" stroke="#fcf6f7" stroke-width="0.7" stroke-linejoin="miter"/>
<path d="M81.95,433.99 L92.44,444.47 L81.95,454.96 L71.47,444.47 Z" fill="#d4e0ea" stroke="#d4e0ea" stroke-width="0.7" stroke-linejoin="miter"/>
<path d="M102.92,433.99 L113.41,444.47 L102.92,454.96 L92.44,444.47 Z" fill="#eef2f5" stroke="#eef2f5" stroke-width="0.7" stroke-linejoin="miter"/>
<path d="M123.89,433.99 L134.38,444.47 L123.89,454.96 L113.41,444.47 Z" fill="#b4cade" stroke="#b4cade" stroke-width="0.7" stroke-linejoin="miter"/>
<path d="M144.87,433.99 L155.35,444.47 L144.87,454.96 L134.38,444.47 Z" fill="#eeb0b4" stroke="#eeb0b4" stroke-width="0.7" stroke-linejoin="miter"/>
<path d="M165.83,433.99 L176.32,444.47 L165.83,454.96 L155.35,444.47 Z" fill="#e8808a" stroke="#e8808a" stroke-width="0.7" stroke-linejoin="miter"/>
<path d="M186.81,433.99 L197.29,444.47 L186.81,454.96 L176.32,444.47 Z" fill="#eca4a8" stroke="#eca4a8" stroke-width="0.7" stroke-linejoin="miter"/>
<path d="M207.77,433.99 L218.26,444.47 L207.77,454.96 L197.29,444.47 Z" fill="#f02a24" stroke="#f02a24" stroke-width="0.7" stroke-linejoin="miter"/>
<path d="M228.75,433.99 L239.23,444.47 L228.75,454.96 L218.26,444.47 Z" fill="#ee3234" stroke="#ee3234" stroke-width="0.7" stroke-linejoin="miter"/>
<path d="M249.71,433.99 L260.20,444.47 L249.71,454.96 L239.23,444.47 Z" fill="#e8585e" stroke="#e8585e" stroke-width="0.7" stroke-linejoin="miter"/>
<path d="M270.69,433.99 L281.17,444.47 L270.69,454.96 L260.20,444.47 Z" fill="#fbf6f7" stroke="#fbf6f7" stroke-width="0.7" stroke-linejoin="miter"/>
<path d="M92.44,444.47 L102.92,454.95 L92.44,465.44 L81.95,454.95 Z" fill="#ccdae6" stroke="#ccdae6" stroke-width="0.7" stroke-linejoin="miter"/>
<path d="M113.41,444.47 L123.89,454.95 L113.41,465.44 L102.92,454.95 Z" fill="#d8e2ec" stroke="#d8e2ec" stroke-width="0.7" stroke-linejoin="miter"/>
<path d="M134.38,444.47 L144.87,454.95 L134.38,465.44 L123.89,454.95 Z" fill="#b0c8dc" stroke="#b0c8dc" stroke-width="0.7" stroke-linejoin="miter"/>
<path d="M155.35,444.47 L165.83,454.95 L155.35,465.44 L144.87,454.95 Z" fill="#f0c0c4" stroke="#f0c0c4" stroke-width="0.7" stroke-linejoin="miter"/>
<path d="M176.32,444.47 L186.81,454.95 L176.32,465.44 L165.83,454.95 Z" fill="#e88890" stroke="#e88890" stroke-width="0.7" stroke-linejoin="miter"/>
<path d="M197.29,444.47 L207.77,454.95 L197.29,465.44 L186.81,454.95 Z" fill="#eca8ac" stroke="#eca8ac" stroke-width="0.7" stroke-linejoin="miter"/>
<path d="M218.26,444.47 L228.75,454.95 L218.26,465.44 L207.77,454.95 Z" fill="#ee3c40" stroke="#ee3c40" stroke-width="0.7" stroke-linejoin="miter"/>
<path d="M239.23,444.47 L249.71,454.95 L239.23,465.44 L228.74,454.95 Z" fill="#e8606a" stroke="#e8606a" stroke-width="0.7" stroke-linejoin="miter"/>
<path d="M260.20,444.47 L270.69,454.95 L260.20,465.44 L249.71,454.95 Z" fill="#faf4f5" stroke="#faf4f5" stroke-width="0.7" stroke-linejoin="miter"/>
<path d="M102.92,454.95 L113.41,465.44 L102.92,475.93 L92.44,465.44 Z" fill="#bcd0e0" stroke="#bcd0e0" stroke-width="0.7" stroke-linejoin="miter"/>
<path d="M123.89,454.95 L134.38,465.44 L123.89,475.93 L113.41,465.44 Z" fill="#eef2f6" stroke="#eef2f6" stroke-width="0.7" stroke-linejoin="miter"/>
<path d="M144.87,454.95 L155.35,465.44 L144.87,475.93 L134.38,465.44 Z" fill="#c8d8e4" stroke="#c8d8e4" stroke-width="0.7" stroke-linejoin="miter"/>
<path d="M165.83,454.95 L176.32,465.44 L165.83,475.93 L155.35,465.44 Z" fill="#f2c4c8" stroke="#f2c4c8" stroke-width="0.7" stroke-linejoin="miter"/>
<path d="M186.81,454.95 L197.29,465.44 L186.81,475.93 L176.32,465.44 Z" fill="#e8848c" stroke="#e8848c" stroke-width="0.7" stroke-linejoin="miter"/>
<path d="M207.77,454.95 L218.26,465.44 L207.77,475.93 L197.29,465.44 Z" fill="#eeb0b4" stroke="#eeb0b4" stroke-width="0.7" stroke-linejoin="miter"/>
<path d="M228.74,454.95 L239.23,465.44 L228.74,475.93 L218.26,465.44 Z" fill="#e85c64" stroke="#e85c64" stroke-width="0.7" stroke-linejoin="miter"/>
<path d="M249.71,454.95 L260.20,465.44 L249.71,475.93 L239.23,465.44 Z" fill="#f8eef0" stroke="#f8eef0" stroke-width="0.7" stroke-linejoin="miter"/>
<path d="M113.41,465.44 L123.89,475.93 L113.41,486.41 L102.92,475.93 Z" fill="#a8c0d8" stroke="#a8c0d8" stroke-width="0.7" stroke-linejoin="miter"/>
<path d="M134.38,465.44 L144.87,475.93 L134.38,486.41 L123.89,475.93 Z" fill="#f6e6e8" stroke="#f6e6e8" stroke-width="0.7" stroke-linejoin="miter"/>
<path d="M155.35,465.44 L165.83,475.93 L155.35,486.41 L144.87,475.93 Z" fill="#c6d6e4" stroke="#c6d6e4" stroke-width="0.7" stroke-linejoin="miter"/>
<path d="M176.32,465.44 L186.81,475.93 L176.32,486.41 L165.83,475.93 Z" fill="#f2c8cc" stroke="#f2c8cc" stroke-width="0.7" stroke-linejoin="miter"/>
<path d="M197.29,465.44 L207.77,475.93 L197.29,486.41 L186.81,475.93 Z" fill="#ec9aa0" stroke="#ec9aa0" stroke-width="0.7" stroke-linejoin="miter"/>
<path d="M218.26,465.44 L228.75,475.93 L218.26,486.41 L207.77,475.93 Z" fill="#f0c4c8" stroke="#f0c4c8" stroke-width="0.7" stroke-linejoin="miter"/>
<path d="M239.23,465.44 L249.71,475.93 L239.23,486.41 L228.75,475.93 Z" fill="#f7f8f9" stroke="#f7f8f9" stroke-width="0.7" stroke-linejoin="miter"/>
<path d="M123.89,475.92 L134.38,486.41 L123.89,496.89 L113.41,486.41 Z" fill="#b8cce0" stroke="#b8cce0" stroke-width="0.7" stroke-linejoin="miter"/>
<path d="M144.87,475.92 L155.35,486.41 L144.87,496.89 L134.38,486.41 Z" fill="#f2dcdf" stroke="#f2dcdf" stroke-width="0.7" stroke-linejoin="miter"/>
<path d="M165.83,475.92 L176.32,486.41 L165.83,496.89 L155.35,486.41 Z" fill="#c8d8e4" stroke="#c8d8e4" stroke-width="0.7" stroke-linejoin="miter"/>
<path d="M186.81,475.92 L197.29,486.41 L186.81,496.89 L176.32,486.41 Z" fill="#f2c8cc" stroke="#f2c8cc" stroke-width="0.7" stroke-linejoin="miter"/>
<path d="M207.77,475.92 L218.26,486.41 L207.77,496.89 L197.29,486.41 Z" fill="#f0b4b8" stroke="#f0b4b8" stroke-width="0.7" stroke-linejoin="miter"/>
<path d="M228.75,475.92 L239.23,486.41 L228.75,496.89 L218.26,486.41 Z" fill="#e4ecf0" stroke="#e4ecf0" stroke-width="0.7" stroke-linejoin="miter"/>
<path d="M134.38,486.41 L144.87,496.89 L134.38,507.38 L123.89,496.89 Z" fill="#bcd0e0" stroke="#bcd0e0" stroke-width="0.7" stroke-linejoin="miter"/>
<path d="M155.35,486.41 L165.83,496.89 L155.35,507.38 L144.87,496.89 Z" fill="#f2dcdf" stroke="#f2dcdf" stroke-width="0.7" stroke-linejoin="miter"/>
<path d="M176.32,486.41 L186.81,496.89 L176.32,507.38 L165.83,496.89 Z" fill="#b4cade" stroke="#b4cade" stroke-width="0.7" stroke-linejoin="miter"/>
<path d="M197.29,486.41 L207.77,496.89 L197.29,507.38 L186.80,496.89 Z" fill="#f6e6e8" stroke="#f6e6e8" stroke-width="0.7" stroke-linejoin="miter"/>
<path d="M218.26,486.41 L228.75,496.89 L218.26,507.38 L207.77,496.89 Z" fill="#e6eef2" stroke="#e6eef2" stroke-width="0.7" stroke-linejoin="miter"/>
<path d="M144.87,496.89 L155.35,507.38 L144.87,517.87 L134.38,507.38 Z" fill="#c0d2e2" stroke="#c0d2e2" stroke-width="0.7" stroke-linejoin="miter"/>
<path d="M165.83,496.89 L176.32,507.38 L165.83,517.87 L155.35,507.38 Z" fill="#fcf6f6" stroke="#fcf6f6" stroke-width="0.7" stroke-linejoin="miter"/>
<path d="M186.80,496.89 L197.29,507.38 L186.80,517.87 L176.32,507.38 Z" fill="#c8d8e4" stroke="#c8d8e4" stroke-width="0.7" stroke-linejoin="miter"/>
<path d="M207.77,496.89 L218.26,507.38 L207.77,517.87 L197.29,507.38 Z" fill="#f4e6e8" stroke="#f4e6e8" stroke-width="0.7" stroke-linejoin="miter"/>
<path d="M155.35,507.38 L165.83,517.87 L155.35,528.35 L144.87,517.87 Z" fill="#b4cade" stroke="#b4cade" stroke-width="0.7" stroke-linejoin="miter"/>
<path d="M176.32,507.38 L186.81,517.87 L176.32,528.35 L165.83,517.87 Z" fill="#f6e8ea" stroke="#f6e8ea" stroke-width="0.7" stroke-linejoin="miter"/>
<path d="M197.29,507.38 L207.77,517.87 L197.29,528.35 L186.81,517.87 Z" fill="#eeacb0" stroke="#eeacb0" stroke-width="0.7" stroke-linejoin="miter"/>
<path d="M165.83,517.87 L176.32,528.35 L165.83,538.84 L155.35,528.35 Z" fill="#c8d8e4" stroke="#c8d8e4" stroke-width="0.7" stroke-linejoin="miter"/>
<path d="M186.81,517.87 L197.29,528.35 L186.81,538.84 L176.32,528.35 Z" fill="#f2d0d4" stroke="#f2d0d4" stroke-width="0.7" stroke-linejoin="miter"/>
<path d="M176.32,528.35 L186.81,538.84 L176.32,549.32 L165.83,538.84 Z" fill="#f2d0d4" stroke="#f2d0d4" stroke-width="0.7" stroke-linejoin="miter"/>
<defs><linearGradient id="cb" x1="0" x2="1" y1="0" y2="0"><stop offset="0" stop-color="#2a5690"/><stop offset="0.2" stop-color="#5a82b4"/><stop offset="0.4" stop-color="#b4c8de"/><stop offset="0.5" stop-color="#ffffff"/><stop offset="0.6" stop-color="#f0c0c4"/><stop offset="0.8" stop-color="#e86a70"/><stop offset="1" stop-color="#e8201c"/></linearGradient></defs>
<rect x="38.90" y="536.50" width="107.00" height="6.10" fill="url(#cb)" stroke="none" stroke-width="1"/>
<text class="S" x="38.50" y="549.20" font-size="4.6" fill="#333" text-anchor="middle">−1</text>
<text class="S" x="59.98" y="549.20" font-size="4.6" fill="#333" text-anchor="middle">−0.6</text>
<text class="S" x="81.46" y="549.20" font-size="4.6" fill="#333" text-anchor="middle">−0.2</text>
<text class="S" x="92.20" y="549.20" font-size="4.6" fill="#333" text-anchor="middle">0</text>
<text class="S" x="102.94" y="549.20" font-size="4.6" fill="#333" text-anchor="middle">0.2</text>
<text class="S" x="124.42" y="549.20" font-size="4.6" fill="#333" text-anchor="middle">0.6</text>
<text class="S" x="145.90" y="549.20" font-size="4.6" fill="#333" text-anchor="middle">1</text>
<line x1="382.60" y1="9.10" x2="382.60" y2="115.30" stroke="#8a8a8a" stroke-width="1.2"/>
<line x1="382.00" y1="115.30" x2="470.60" y2="115.30" stroke="#8a8a8a" stroke-width="1.2"/>
<line x1="381.00" y1="110.30" x2="382.60" y2="110.30" stroke="#777" stroke-width="0.5"/>
<text class="R" x="380.30" y="112.30" font-size="6.2" fill="#8a8a8a" text-anchor="end">0.00</text>
<line x1="381.00" y1="86.30" x2="382.60" y2="86.30" stroke="#777" stroke-width="0.5"/>
<text class="R" x="380.30" y="88.30" font-size="6.2" fill="#8a8a8a" text-anchor="end">0.05</text>
<line x1="381.00" y1="62.30" x2="382.60" y2="62.30" stroke="#777" stroke-width="0.5"/>
<text class="R" x="380.30" y="64.30" font-size="6.2" fill="#8a8a8a" text-anchor="end">0.10</text>
<line x1="381.00" y1="38.30" x2="382.60" y2="38.30" stroke="#777" stroke-width="0.5"/>
<text class="R" x="380.30" y="40.30" font-size="6.2" fill="#8a8a8a" text-anchor="end">0.15</text>
<line x1="381.00" y1="14.30" x2="382.60" y2="14.30" stroke="#777" stroke-width="0.5"/>
<text class="R" x="380.30" y="16.30" font-size="6.2" fill="#8a8a8a" text-anchor="end">0.20</text>
<line x1="406.00" y1="115.30" x2="406.00" y2="116.90" stroke="#777" stroke-width="0.5"/>
<line x1="445.30" y1="115.30" x2="445.30" y2="116.90" stroke="#777" stroke-width="0.5"/>
<text class="R" x="406.00" y="123.40" font-size="8.0" fill="#444" text-anchor="middle">Normal</text>
<text class="R" x="445.30" y="123.40" font-size="8.0" fill="#444" text-anchor="middle">LUAD</text>
<line x1="406.00" y1="98.40" x2="406.00" y2="99.50" stroke="#5394d6" stroke-width="1.0"/>
<line x1="406.00" y1="102.60" x2="406.00" y2="105.40" stroke="#5394d6" stroke-width="1.0"/>
<line x1="404.00" y1="98.40" x2="408.00" y2="98.40" stroke="#5394d6" stroke-width="1.0"/>
<line x1="404.00" y1="105.40" x2="408.00" y2="105.40" stroke="#5394d6" stroke-width="1.0"/>
<rect x="401.60" y="99.50" width="8.80" height="3.10" fill="#fff" stroke="#5394d6" stroke-width="1.0"/>
<line x1="401.60" y1="101.00" x2="410.40" y2="101.00" stroke="#5394d6" stroke-width="1.6"/>
<line x1="445.30" y1="80.50" x2="445.30" y2="92.50" stroke="#e4c646" stroke-width="1.0"/>
<line x1="445.30" y1="101.50" x2="445.30" y2="108.80" stroke="#e4c646" stroke-width="1.0"/>
<line x1="443.30" y1="80.50" x2="447.30" y2="80.50" stroke="#e4c646" stroke-width="1.0"/>
<line x1="443.30" y1="108.80" x2="447.30" y2="108.80" stroke="#e4c646" stroke-width="1.0"/>
<rect x="440.90" y="92.50" width="8.80" height="9.00" fill="#fff" stroke="#e4c646" stroke-width="1.0"/>
<line x1="440.90" y1="98.00" x2="449.70" y2="98.00" stroke="#e4c646" stroke-width="1.6"/>
<line x1="406.00" y1="30.60" x2="441.60" y2="30.60" stroke="#555" stroke-width="0.8"/>
<text class="R" x="423.80" y="30.80" font-size="7.3" fill="#222" text-anchor="middle">****</text>
<text class="R" x="425.20" y="7.30" font-size="9.1" fill="#111" text-anchor="middle">cg08665961</text>
<text class="R" x="0.00" y="0.00" font-size="7.6" fill="#111" text-anchor="middle" transform="translate(366.10,55.00) rotate(-90)">methylation level</text>
<line x1="488.50" y1="9.50" x2="488.50" y2="115.30" stroke="#8a8a8a" stroke-width="1.2"/>
<line x1="487.90" y1="115.30" x2="576.50" y2="115.30" stroke="#8a8a8a" stroke-width="1.2"/>
<line x1="486.90" y1="110.30" x2="488.50" y2="110.30" stroke="#777" stroke-width="0.5"/>
<text class="R" x="486.20" y="112.30" font-size="6.2" fill="#8a8a8a" text-anchor="end">0.0</text>
<line x1="486.90" y1="91.02" x2="488.50" y2="91.02" stroke="#777" stroke-width="0.5"/>
<text class="R" x="486.20" y="93.02" font-size="6.2" fill="#8a8a8a" text-anchor="end">0.1</text>
<line x1="486.90" y1="71.74" x2="488.50" y2="71.74" stroke="#777" stroke-width="0.5"/>
<text class="R" x="486.20" y="73.74" font-size="6.2" fill="#8a8a8a" text-anchor="end">0.2</text>
<line x1="486.90" y1="52.46" x2="488.50" y2="52.46" stroke="#777" stroke-width="0.5"/>
<text class="R" x="486.20" y="54.46" font-size="6.2" fill="#8a8a8a" text-anchor="end">0.3</text>
<line x1="486.90" y1="33.18" x2="488.50" y2="33.18" stroke="#777" stroke-width="0.5"/>
<text class="R" x="486.20" y="35.18" font-size="6.2" fill="#8a8a8a" text-anchor="end">0.4</text>
<line x1="486.90" y1="13.90" x2="488.50" y2="13.90" stroke="#777" stroke-width="0.5"/>
<text class="R" x="486.20" y="15.90" font-size="6.2" fill="#8a8a8a" text-anchor="end">0.5</text>
<line x1="512.50" y1="115.30" x2="512.50" y2="116.90" stroke="#777" stroke-width="0.5"/>
<line x1="552.40" y1="115.30" x2="552.40" y2="116.90" stroke="#777" stroke-width="0.5"/>
<text class="R" x="512.50" y="123.40" font-size="8.0" fill="#444" text-anchor="middle">Normal</text>
<text class="R" x="552.40" y="123.40" font-size="8.0" fill="#444" text-anchor="middle">LUAD</text>
<line x1="512.50" y1="84.50" x2="512.50" y2="87.90" stroke="#5394d6" stroke-width="1.0"/>
<line x1="512.50" y1="93.80" x2="512.50" y2="98.70" stroke="#5394d6" stroke-width="1.0"/>
<line x1="510.50" y1="84.50" x2="514.50" y2="84.50" stroke="#5394d6" stroke-width="1.0"/>
<line x1="510.50" y1="98.70" x2="514.50" y2="98.70" stroke="#5394d6" stroke-width="1.0"/>
<rect x="508.10" y="87.90" width="8.80" height="5.90" fill="#fff" stroke="#5394d6" stroke-width="1.0"/>
<line x1="508.10" y1="90.70" x2="516.90" y2="90.70" stroke="#5394d6" stroke-width="1.6"/>
<line x1="552.40" y1="56.70" x2="552.40" y2="77.10" stroke="#e4c646" stroke-width="1.0"/>
<line x1="552.40" y1="90.70" x2="552.40" y2="100.30" stroke="#e4c646" stroke-width="1.0"/>
<line x1="550.40" y1="56.70" x2="554.40" y2="56.70" stroke="#e4c646" stroke-width="1.0"/>
<line x1="550.40" y1="100.30" x2="554.40" y2="100.30" stroke="#e4c646" stroke-width="1.0"/>
<rect x="548.00" y="77.10" width="8.80" height="13.60" fill="#fff" stroke="#e4c646" stroke-width="1.0"/>
<line x1="548.00" y1="85.10" x2="556.80" y2="85.10" stroke="#e4c646" stroke-width="1.6"/>
<line x1="514.20" y1="30.40" x2="550.60" y2="30.40" stroke="#555" stroke-width="0.8"/>
<text class="R" x="532.40" y="30.60" font-size="7.3" fill="#222" text-anchor="middle">****</text>
<text class="R" x="532.30" y="7.30" font-size="9.1" fill="#111" text-anchor="middle">cg24690946</text>
<text class="R" x="0.00" y="0.00" font-size="7.6" fill="#111" text-anchor="middle" transform="translate(474.10,55.00) rotate(-90)">methylation level</text>
<line x1="595.80" y1="9.50" x2="595.80" y2="115.30" stroke="#8a8a8a" stroke-width="1.2"/>
<line x1="595.20" y1="115.30" x2="683.80" y2="115.30" stroke="#8a8a8a" stroke-width="1.2"/>
<line x1="594.20" y1="110.30" x2="595.80" y2="110.30" stroke="#777" stroke-width="0.5"/>
<text class="R" x="593.50" y="112.30" font-size="6.2" fill="#8a8a8a" text-anchor="end">0.0</text>
<line x1="594.20" y1="91.02" x2="595.80" y2="91.02" stroke="#777" stroke-width="0.5"/>
<text class="R" x="593.50" y="93.02" font-size="6.2" fill="#8a8a8a" text-anchor="end">0.1</text>
<line x1="594.20" y1="71.74" x2="595.80" y2="71.74" stroke="#777" stroke-width="0.5"/>
<text class="R" x="593.50" y="73.74" font-size="6.2" fill="#8a8a8a" text-anchor="end">0.2</text>
<line x1="594.20" y1="52.46" x2="595.80" y2="52.46" stroke="#777" stroke-width="0.5"/>
<text class="R" x="593.50" y="54.46" font-size="6.2" fill="#8a8a8a" text-anchor="end">0.3</text>
<line x1="594.20" y1="33.18" x2="595.80" y2="33.18" stroke="#777" stroke-width="0.5"/>
<text class="R" x="593.50" y="35.18" font-size="6.2" fill="#8a8a8a" text-anchor="end">0.4</text>
<line x1="594.20" y1="13.90" x2="595.80" y2="13.90" stroke="#777" stroke-width="0.5"/>
<text class="R" x="593.50" y="15.90" font-size="6.2" fill="#8a8a8a" text-anchor="end">0.5</text>
<line x1="620.20" y1="115.30" x2="620.20" y2="116.90" stroke="#777" stroke-width="0.5"/>
<line x1="660.40" y1="115.30" x2="660.40" y2="116.90" stroke="#777" stroke-width="0.5"/>
<text class="R" x="620.20" y="123.40" font-size="8.0" fill="#444" text-anchor="middle">Normal</text>
<text class="R" x="660.40" y="123.40" font-size="8.0" fill="#444" text-anchor="middle">LUAD</text>
<line x1="620.20" y1="65.50" x2="620.20" y2="72.50" stroke="#5394d6" stroke-width="1.0"/>
<line x1="620.20" y1="82.00" x2="620.20" y2="88.20" stroke="#5394d6" stroke-width="1.0"/>
<line x1="618.20" y1="65.50" x2="622.20" y2="65.50" stroke="#5394d6" stroke-width="1.0"/>
<line x1="618.20" y1="88.20" x2="622.20" y2="88.20" stroke="#5394d6" stroke-width="1.0"/>
<rect x="615.80" y="72.50" width="8.80" height="9.50" fill="#fff" stroke="#5394d6" stroke-width="1.0"/>
<line x1="615.80" y1="78.60" x2="624.60" y2="78.60" stroke="#5394d6" stroke-width="1.6"/>
<line x1="660.40" y1="35.40" x2="660.40" y2="60.90" stroke="#e4c646" stroke-width="1.0"/>
<line x1="660.40" y1="78.30" x2="660.40" y2="94.40" stroke="#e4c646" stroke-width="1.0"/>
<line x1="658.40" y1="35.40" x2="662.40" y2="35.40" stroke="#e4c646" stroke-width="1.0"/>
<line x1="658.40" y1="94.40" x2="662.40" y2="94.40" stroke="#e4c646" stroke-width="1.0"/>
<rect x="656.00" y="60.90" width="8.80" height="17.40" fill="#fff" stroke="#e4c646" stroke-width="1.0"/>
<line x1="656.00" y1="70.40" x2="664.80" y2="70.40" stroke="#e4c646" stroke-width="1.6"/>
<line x1="621.70" y1="30.20" x2="657.80" y2="30.20" stroke="#555" stroke-width="0.8"/>
<text class="R" x="639.75" y="30.40" font-size="7.3" fill="#222" text-anchor="middle">****</text>
<text class="R" x="637.60" y="7.30" font-size="9.1" fill="#111" text-anchor="middle">cg25492569</text>
<text class="R" x="0.00" y="0.00" font-size="7.6" fill="#111" text-anchor="middle" transform="translate(581.80,55.00) rotate(-90)">methylation level</text>
<line x1="380.60" y1="145.10" x2="380.60" y2="250.80" stroke="#8a8a8a" stroke-width="1.2"/>
<line x1="380.00" y1="250.80" x2="468.60" y2="250.80" stroke="#8a8a8a" stroke-width="1.2"/>
<line x1="379.00" y1="246.00" x2="380.60" y2="246.00" stroke="#777" stroke-width="0.5"/>
<text class="R" x="378.30" y="248.00" font-size="6.2" fill="#8a8a8a" text-anchor="end">0.0</text>
<line x1="379.00" y1="226.74" x2="380.60" y2="226.74" stroke="#777" stroke-width="0.5"/>
<text class="R" x="378.30" y="228.74" font-size="6.2" fill="#8a8a8a" text-anchor="end">0.1</text>
<line x1="379.00" y1="207.48" x2="380.60" y2="207.48" stroke="#777" stroke-width="0.5"/>
<text class="R" x="378.30" y="209.48" font-size="6.2" fill="#8a8a8a" text-anchor="end">0.2</text>
<line x1="379.00" y1="188.22" x2="380.60" y2="188.22" stroke="#777" stroke-width="0.5"/>
<text class="R" x="378.30" y="190.22" font-size="6.2" fill="#8a8a8a" text-anchor="end">0.3</text>
<line x1="379.00" y1="168.96" x2="380.60" y2="168.96" stroke="#777" stroke-width="0.5"/>
<text class="R" x="378.30" y="170.96" font-size="6.2" fill="#8a8a8a" text-anchor="end">0.4</text>
<line x1="379.00" y1="149.70" x2="380.60" y2="149.70" stroke="#777" stroke-width="0.5"/>
<text class="R" x="378.30" y="151.70" font-size="6.2" fill="#8a8a8a" text-anchor="end">0.5</text>
<line x1="404.50" y1="250.80" x2="404.50" y2="252.40" stroke="#777" stroke-width="0.5"/>
<line x1="444.60" y1="250.80" x2="444.60" y2="252.40" stroke="#777" stroke-width="0.5"/>
<text class="R" x="404.50" y="258.90" font-size="8.0" fill="#444" text-anchor="middle">Normal</text>
<text class="R" x="444.60" y="258.90" font-size="8.0" fill="#444" text-anchor="middle">LUAD</text>
<line x1="404.50" y1="198.50" x2="404.50" y2="210.20" stroke="#5394d6" stroke-width="1.0"/>
<line x1="404.50" y1="219.60" x2="404.50" y2="231.80" stroke="#5394d6" stroke-width="1.0"/>
<line x1="402.50" y1="198.50" x2="406.50" y2="198.50" stroke="#5394d6" stroke-width="1.0"/>
<line x1="402.50" y1="231.80" x2="406.50" y2="231.80" stroke="#5394d6" stroke-width="1.0"/>
<rect x="400.10" y="210.20" width="8.80" height="9.40" fill="#fff" stroke="#5394d6" stroke-width="1.0"/>
<line x1="400.10" y1="213.50" x2="408.90" y2="213.50" stroke="#5394d6" stroke-width="1.6"/>
<line x1="444.60" y1="160.60" x2="444.60" y2="191.90" stroke="#e4c646" stroke-width="1.0"/>
<line x1="444.60" y1="213.20" x2="444.60" y2="228.40" stroke="#e4c646" stroke-width="1.0"/>
<line x1="442.60" y1="160.60" x2="446.60" y2="160.60" stroke="#e4c646" stroke-width="1.0"/>
<line x1="442.60" y1="228.40" x2="446.60" y2="228.40" stroke="#e4c646" stroke-width="1.0"/>
<rect x="440.20" y="191.90" width="8.80" height="21.30" fill="#fff" stroke="#e4c646" stroke-width="1.0"/>
<line x1="440.20" y1="202.80" x2="449.00" y2="202.80" stroke="#e4c646" stroke-width="1.6"/>
<line x1="406.00" y1="155.40" x2="441.00" y2="155.40" stroke="#555" stroke-width="0.8"/>
<text class="R" x="423.50" y="155.60" font-size="7.3" fill="#222" text-anchor="middle">****</text>
<text class="R" x="424.20" y="142.50" font-size="9.1" fill="#111" text-anchor="middle">cg25821245</text>
<text class="R" x="0.00" y="0.00" font-size="7.6" fill="#111" text-anchor="middle" transform="translate(365.30,190.00) rotate(-90)">methylation level</text>
<line x1="488.40" y1="146.00" x2="488.40" y2="250.90" stroke="#8a8a8a" stroke-width="1.2"/>
<line x1="487.80" y1="250.90" x2="576.40" y2="250.90" stroke="#8a8a8a" stroke-width="1.2"/>
<line x1="486.80" y1="246.00" x2="488.40" y2="246.00" stroke="#777" stroke-width="0.5"/>
<text class="R" x="486.10" y="248.00" font-size="6.2" fill="#8a8a8a" text-anchor="end">0.0</text>
<line x1="486.80" y1="226.74" x2="488.40" y2="226.74" stroke="#777" stroke-width="0.5"/>
<text class="R" x="486.10" y="228.74" font-size="6.2" fill="#8a8a8a" text-anchor="end">0.1</text>
<line x1="486.80" y1="207.48" x2="488.40" y2="207.48" stroke="#777" stroke-width="0.5"/>
<text class="R" x="486.10" y="209.48" font-size="6.2" fill="#8a8a8a" text-anchor="end">0.2</text>
<line x1="486.80" y1="188.22" x2="488.40" y2="188.22" stroke="#777" stroke-width="0.5"/>
<text class="R" x="486.10" y="190.22" font-size="6.2" fill="#8a8a8a" text-anchor="end">0.3</text>
<line x1="486.80" y1="168.96" x2="488.40" y2="168.96" stroke="#777" stroke-width="0.5"/>
<text class="R" x="486.10" y="170.96" font-size="6.2" fill="#8a8a8a" text-anchor="end">0.4</text>
<line x1="486.80" y1="149.70" x2="488.40" y2="149.70" stroke="#777" stroke-width="0.5"/>
<text class="R" x="486.10" y="151.70" font-size="6.2" fill="#8a8a8a" text-anchor="end">0.5</text>
<line x1="512.30" y1="250.90" x2="512.30" y2="252.50" stroke="#777" stroke-width="0.5"/>
<line x1="552.80" y1="250.90" x2="552.80" y2="252.50" stroke="#777" stroke-width="0.5"/>
<text class="R" x="512.30" y="259.00" font-size="8.0" fill="#444" text-anchor="middle">Normal</text>
<text class="R" x="552.80" y="259.00" font-size="8.0" fill="#444" text-anchor="middle">LUAD</text>
<line x1="512.30" y1="200.50" x2="512.30" y2="213.50" stroke="#5394d6" stroke-width="1.0"/>
<line x1="512.30" y1="222.60" x2="512.30" y2="230.70" stroke="#5394d6" stroke-width="1.0"/>
<line x1="510.30" y1="200.50" x2="514.30" y2="200.50" stroke="#5394d6" stroke-width="1.0"/>
<line x1="510.30" y1="230.70" x2="514.30" y2="230.70" stroke="#5394d6" stroke-width="1.0"/>
<rect x="507.90" y="213.50" width="8.80" height="9.10" fill="#fff" stroke="#5394d6" stroke-width="1.0"/>
<line x1="507.90" y1="219.70" x2="516.70" y2="219.70" stroke="#5394d6" stroke-width="1.6"/>
<line x1="552.80" y1="176.20" x2="552.80" y2="199.50" stroke="#e4c646" stroke-width="1.0"/>
<line x1="552.80" y1="217.50" x2="552.80" y2="232.70" stroke="#e4c646" stroke-width="1.0"/>
<line x1="550.80" y1="176.20" x2="554.80" y2="176.20" stroke="#e4c646" stroke-width="1.0"/>
<line x1="550.80" y1="232.70" x2="554.80" y2="232.70" stroke="#e4c646" stroke-width="1.0"/>
<rect x="548.40" y="199.50" width="8.80" height="18.00" fill="#fff" stroke="#e4c646" stroke-width="1.0"/>
<line x1="548.40" y1="208.60" x2="557.20" y2="208.60" stroke="#e4c646" stroke-width="1.6"/>
<line x1="514.20" y1="155.10" x2="550.60" y2="155.10" stroke="#555" stroke-width="0.8"/>
<text class="R" x="532.40" y="155.30" font-size="7.3" fill="#222" text-anchor="middle">****</text>
<text class="R" x="532.00" y="142.50" font-size="9.1" fill="#111" text-anchor="middle">cg11136751</text>
<text class="R" x="0.00" y="0.00" font-size="7.6" fill="#111" text-anchor="middle" transform="translate(474.10,190.00) rotate(-90)">methylation level</text>
<line x1="598.00" y1="146.00" x2="598.00" y2="250.70" stroke="#8a8a8a" stroke-width="1.2"/>
<line x1="597.40" y1="250.70" x2="686.00" y2="250.70" stroke="#8a8a8a" stroke-width="1.2"/>
<line x1="596.40" y1="245.80" x2="598.00" y2="245.80" stroke="#777" stroke-width="0.5"/>
<text class="R" x="595.70" y="247.80" font-size="6.2" fill="#8a8a8a" text-anchor="end">0.00</text>
<line x1="596.40" y1="221.75" x2="598.00" y2="221.75" stroke="#777" stroke-width="0.5"/>
<text class="R" x="595.70" y="223.75" font-size="6.2" fill="#8a8a8a" text-anchor="end">0.25</text>
<line x1="596.40" y1="197.70" x2="598.00" y2="197.70" stroke="#777" stroke-width="0.5"/>
<text class="R" x="595.70" y="199.70" font-size="6.2" fill="#8a8a8a" text-anchor="end">0.50</text>
<line x1="596.40" y1="173.65" x2="598.00" y2="173.65" stroke="#777" stroke-width="0.5"/>
<text class="R" x="595.70" y="175.65" font-size="6.2" fill="#8a8a8a" text-anchor="end">0.75</text>
<line x1="596.40" y1="149.60" x2="598.00" y2="149.60" stroke="#777" stroke-width="0.5"/>
<text class="R" x="595.70" y="151.60" font-size="6.2" fill="#8a8a8a" text-anchor="end">1.00</text>
<line x1="621.20" y1="250.70" x2="621.20" y2="252.30" stroke="#777" stroke-width="0.5"/>
<line x1="660.50" y1="250.70" x2="660.50" y2="252.30" stroke="#777" stroke-width="0.5"/>
<text class="R" x="621.20" y="258.80" font-size="8.0" fill="#444" text-anchor="middle">Normal</text>
<text class="R" x="660.50" y="258.80" font-size="8.0" fill="#444" text-anchor="middle">LUAD</text>
<line x1="621.20" y1="197.00" x2="621.20" y2="204.30" stroke="#5394d6" stroke-width="1.0"/>
<line x1="621.20" y1="212.20" x2="621.20" y2="218.30" stroke="#5394d6" stroke-width="1.0"/>
<line x1="619.20" y1="197.00" x2="623.20" y2="197.00" stroke="#5394d6" stroke-width="1.0"/>
<line x1="619.20" y1="218.30" x2="623.20" y2="218.30" stroke="#5394d6" stroke-width="1.0"/>
<rect x="616.80" y="204.30" width="8.80" height="7.90" fill="#fff" stroke="#5394d6" stroke-width="1.0"/>
<line x1="616.80" y1="209.00" x2="625.60" y2="209.00" stroke="#5394d6" stroke-width="1.6"/>
<line x1="660.50" y1="168.00" x2="660.50" y2="192.10" stroke="#e4c646" stroke-width="1.0"/>
<line x1="660.50" y1="211.50" x2="660.50" y2="236.70" stroke="#e4c646" stroke-width="1.0"/>
<line x1="658.50" y1="168.00" x2="662.50" y2="168.00" stroke="#e4c646" stroke-width="1.0"/>
<line x1="658.50" y1="236.70" x2="662.50" y2="236.70" stroke="#e4c646" stroke-width="1.0"/>
<rect x="656.10" y="192.10" width="8.80" height="19.40" fill="#fff" stroke="#e4c646" stroke-width="1.0"/>
<line x1="656.10" y1="202.40" x2="664.90" y2="202.40" stroke="#e4c646" stroke-width="1.6"/>
<line x1="621.70" y1="155.00" x2="658.00" y2="155.00" stroke="#555" stroke-width="0.8"/>
<text class="R" x="639.85" y="155.20" font-size="7.3" fill="#222" text-anchor="middle">**</text>
<text class="R" x="638.00" y="142.50" font-size="9.1" fill="#111" text-anchor="middle">cg13719901</text>
<text class="R" x="0.00" y="0.00" font-size="7.6" fill="#111" text-anchor="middle" transform="translate(582.00,190.00) rotate(-90)">methylation level</text>
<line x1="388.10" y1="332.10" x2="388.10" y2="504.00" stroke="#222" stroke-width="1.3"/>
<line x1="388.10" y1="504.00" x2="644.00" y2="504.00" stroke="#222" stroke-width="1.1"/>
<line x1="385.80" y1="503.70" x2="388.10" y2="503.70" stroke="#222" stroke-width="0.9"/>
<text class="R" x="384.40" y="507.00" font-size="8.6" fill="#111" text-anchor="end" font-weight="bold">0.0</text>
<line x1="385.80" y1="462.00" x2="388.10" y2="462.00" stroke="#222" stroke-width="0.9"/>
<text class="R" x="384.40" y="465.30" font-size="8.6" fill="#111" text-anchor="end" font-weight="bold">0.3</text>
<line x1="385.80" y1="420.30" x2="388.10" y2="420.30" stroke="#222" stroke-width="0.9"/>
<text class="R" x="384.40" y="423.60" font-size="8.6" fill="#111" text-anchor="end" font-weight="bold">0.6</text>
<line x1="385.80" y1="378.60" x2="388.10" y2="378.60" stroke="#222" stroke-width="0.9"/>
<text class="R" x="384.40" y="381.90" font-size="8.6" fill="#111" text-anchor="end" font-weight="bold">0.9</text>
<line x1="385.80" y1="336.90" x2="388.10" y2="336.90" stroke="#222" stroke-width="0.9"/>
<text class="R" x="384.40" y="340.20" font-size="8.6" fill="#111" text-anchor="end" font-weight="bold">1.2</text>
<rect x="424.10" y="347.40" width="36.20" height="156.60" fill="#e07b6a" stroke="none" stroke-width="1"/>
<line x1="442.20" y1="332.10" x2="442.20" y2="362.60" stroke="#1a1a1a" stroke-width="1.2"/>
<line x1="436.20" y1="332.10" x2="448.20" y2="332.10" stroke="#1a1a1a" stroke-width="1.3"/>
<line x1="436.20" y1="362.60" x2="448.20" y2="362.60" stroke="#1a1a1a" stroke-width="1.3"/>
<line x1="442.20" y1="504.00" x2="442.20" y2="507.50" stroke="#222" stroke-width="0.9"/>
<text class="R" x="442.20" y="515.50" font-size="8.8" fill="#111" text-anchor="middle" font-weight="bold">0</text>
<text class="R" x="442.20" y="526.00" font-size="8.8" fill="#111" text-anchor="middle" font-weight="bold">(N=76)</text>
<rect x="484.20" y="423.00" width="36.20" height="81.00" fill="#e8dc34" stroke="none" stroke-width="1"/>
<line x1="502.30" y1="417.50" x2="502.30" y2="428.00" stroke="#1a1a1a" stroke-width="1.2"/>
<line x1="496.30" y1="417.50" x2="508.30" y2="417.50" stroke="#1a1a1a" stroke-width="1.3"/>
<line x1="496.30" y1="428.00" x2="508.30" y2="428.00" stroke="#1a1a1a" stroke-width="1.3"/>
<line x1="502.30" y1="504.00" x2="502.30" y2="507.50" stroke="#222" stroke-width="0.9"/>
<text class="R" x="502.30" y="515.50" font-size="8.8" fill="#111" text-anchor="middle" font-weight="bold">1-3</text>
<text class="R" x="502.30" y="526.00" font-size="8.8" fill="#111" text-anchor="middle" font-weight="bold">(N=178)</text>
<rect x="543.90" y="415.80" width="36.20" height="88.20" fill="#74a1cc" stroke="none" stroke-width="1"/>
<line x1="562.00" y1="410.30" x2="562.00" y2="420.80" stroke="#1a1a1a" stroke-width="1.2"/>
<line x1="556.00" y1="410.30" x2="568.00" y2="410.30" stroke="#1a1a1a" stroke-width="1.3"/>
<line x1="556.00" y1="420.80" x2="568.00" y2="420.80" stroke="#1a1a1a" stroke-width="1.3"/>
<line x1="562.00" y1="504.00" x2="562.00" y2="507.50" stroke="#222" stroke-width="0.9"/>
<text class="R" x="562.00" y="515.50" font-size="8.8" fill="#111" text-anchor="middle" font-weight="bold">4-6</text>
<text class="R" x="562.00" y="526.00" font-size="8.8" fill="#111" text-anchor="middle" font-weight="bold">(N=167)</text>
<rect x="604.20" y="438.00" width="36.20" height="66.00" fill="#92c48c" stroke="none" stroke-width="1"/>
<line x1="622.30" y1="433.60" x2="622.30" y2="441.70" stroke="#1a1a1a" stroke-width="1.2"/>
<line x1="616.30" y1="433.60" x2="628.30" y2="433.60" stroke="#1a1a1a" stroke-width="1.3"/>
<line x1="616.30" y1="441.70" x2="628.30" y2="441.70" stroke="#1a1a1a" stroke-width="1.3"/>
<line x1="622.30" y1="504.00" x2="622.30" y2="507.50" stroke="#222" stroke-width="0.9"/>
<text class="R" x="622.30" y="515.50" font-size="8.8" fill="#111" text-anchor="middle" font-weight="bold">7</text>
<text class="R" x="622.30" y="526.00" font-size="8.8" fill="#111" text-anchor="middle" font-weight="bold">(N=82)</text>
<line x1="388.10" y1="504.00" x2="644.00" y2="504.00" stroke="#222" stroke-width="1.1"/>
<text class="R" x="533.00" y="539.00" font-size="9.9" fill="#111" text-anchor="middle" font-weight="bold">Number of Hyper-Methylated CpG sites</text>
<text class="R" font-size="10" font-weight="bold" fill="#111" text-anchor="middle" transform="translate(366.2,418.8) rotate(-90)">Relative <tspan font-style="italic">LRRC2</tspan> expression</text>
<path d="M441.70,330.80 L441.70,323.60 L502.00,323.60 L502.00,330.80" fill="none" stroke="#333" stroke-width="0.9"/>
<path d="M442.30,315.70 L442.30,308.60 L560.60,308.60 L560.60,315.70" fill="none" stroke="#333" stroke-width="0.9"/>
<path d="M445.30,300.50 L445.30,293.40 L623.40,293.40 L623.40,300.50" fill="none" stroke="#333" stroke-width="0.9"/>
<text class="R" x="448.40" y="320.20" font-size="9.2" font-weight="bold" fill="#111"><tspan font-style="italic">P</tspan> = 8.57×10<tspan font-size="5.4" dy="-3.4">-7</tspan></text>
<text class="R" x="479.70" y="305.40" font-size="9.2" font-weight="bold" fill="#111"><tspan font-style="italic">P</tspan> = 6.36×10<tspan font-size="5.4" dy="-3.4">-4</tspan></text>
<text class="R" x="514.80" y="290.60" font-size="9.2" font-weight="bold" fill="#111"><tspan font-style="italic">P</tspan> = 3.72×10<tspan font-size="5.4" dy="-3.4">-6</tspan></text>
<rect x="655.00" y="395.90" width="14.10" height="13.80" fill="#e07b6a" stroke="none" stroke-width="1"/>
<text class="R" x="677.80" y="406.80" font-size="9.0" fill="#111" text-anchor="middle" font-weight="bold">0</text>
<rect x="655.00" y="410.95" width="14.10" height="13.80" fill="#e8dc34" stroke="none" stroke-width="1"/>
<text class="R" x="677.80" y="421.85" font-size="9.0" fill="#111" text-anchor="middle" font-weight="bold">1-3</text>
<rect x="655.00" y="426.00" width="14.10" height="13.80" fill="#74a1cc" stroke="none" stroke-width="1"/>
<text class="R" x="677.80" y="436.90" font-size="9.0" fill="#111" text-anchor="middle" font-weight="bold">4-6</text>
<rect x="655.00" y="441.05" width="14.10" height="13.80" fill="#92c48c" stroke="none" stroke-width="1"/>
<text class="R" x="677.80" y="451.95" font-size="9.0" fill="#111" text-anchor="middle" font-weight="bold">7</text>
</svg></body></html>
